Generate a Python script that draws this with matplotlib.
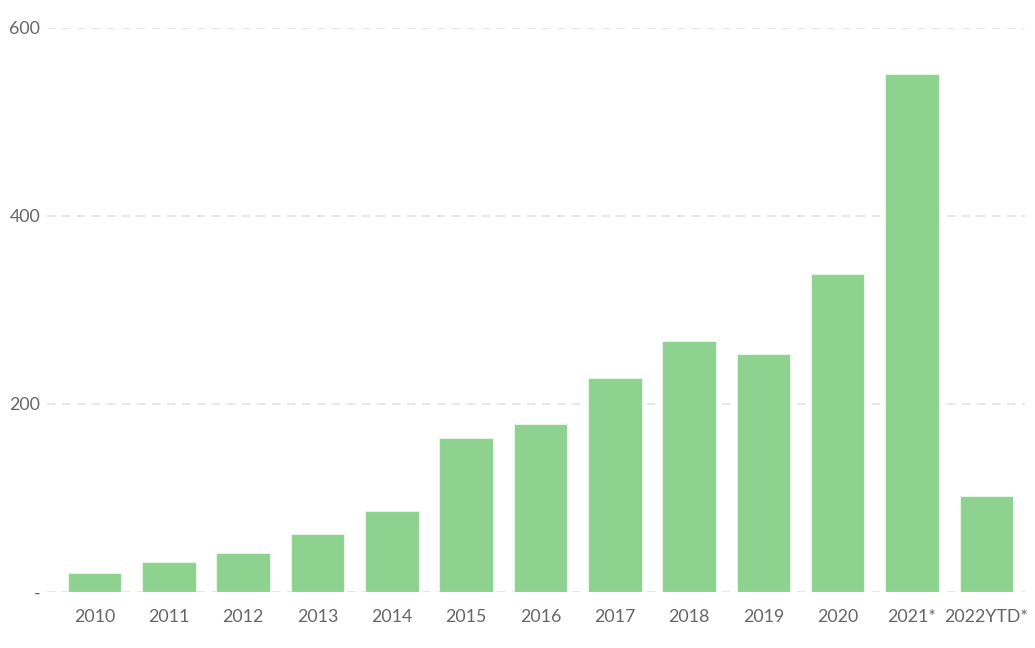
import matplotlib.pyplot as plt

plt.rcParams['font.family'] = ['Lato', 'DejaVu Sans']

years = ["2010", "2011", "2012", "2013", "2014", "2015", "2016",
         "2017", "2018", "2019", "2020", "2021*", "2022YTD*"]
values = [20, 32, 41, 62, 86, 164, 179, 228, 267, 253, 338, 551, 102]
yticks = [0, 200, 400, 600]
ytick_labels = ["-", "200", "400", "600"]

fig = plt.figure(figsize=(10.35, 6.48), dpi=100)
ax = fig.add_axes([47/1035, 1-592/648, (1025-47)/1035, (592-28)/648])

x = range(len(years))
ax.bar(x, values, width=0.72, color='#8dd28f', edgecolor='#e6f4e6', linewidth=0.8, zorder=2)

ax.set_xlim(-0.64, 12.52)
ax.set_ylim(0, 600)
ax.set_yticks(yticks)
ax.set_yticklabels(ytick_labels)
ax.set_xticks(list(x))
ax.set_xticklabels(years)
ax.tick_params(axis='both', length=0, labelsize=12.8, labelcolor='#666666')
ax.tick_params(axis='x', pad=12)
ax.tick_params(axis='y', pad=5)
ax.grid(axis='y', color='#e3e3e3', linestyle=(0, (5, 4)), linewidth=1.2, zorder=0)
for s in ax.spines.values():
    s.set_visible(False)

fig.savefig("out.png", dpi=100)
